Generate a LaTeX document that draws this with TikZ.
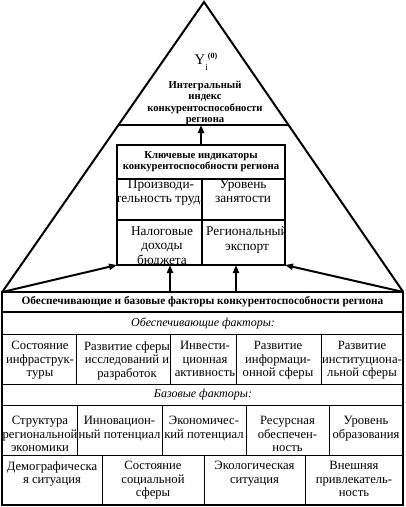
\documentclass[tikz,border=0pt]{standalone}
\usepackage{fontspec}
\setmainfont{Liberation Serif}
\usetikzlibrary{arrows.meta}
\begin{document}
\begin{tikzpicture}[x=0.75pt,y=-0.75pt,
  tri/.style={line width=1.5pt},
  arr/.style={-{Triangle[length=6pt,width=4.5pt]},line width=1.5pt},
  frame/.style={draw,inner sep=0pt,outer sep=0pt},
  grid/.style={line width=0.7pt},
  txt/.style={inner sep=0pt,align=center,font=\fontsize{9.5}{10.2}\selectfont},
  ktxt/.style={inner sep=0pt,align=center,font=\fontsize{10}{11.2}\selectfont},
  btxt/.style={inner sep=0pt,align=center,font=\bfseries\fontsize{8}{8.2}\selectfont},
  itxt/.style={inner sep=0pt,align=center,font=\itshape\fontsize{9}{10}\selectfont}]
\useasboundingbox (0,0) rectangle (406,507);
% frames
\node[frame,line width=2pt,minimum width=126pt,minimum height=90pt] (key) at (201,205) {};
\node[frame,line width=1.2pt,minimum width=300.75pt,minimum height=159.75pt] (base) at (202.75,398.5) {};
% triangle
\coordinate (apex) at (204,2);
\coordinate (tl) at (118.3,125);
\coordinate (tr) at (288.4,125);
\draw[tri] (base.north west) -- (apex) -- (base.north east);
\draw[tri] (tl) -- (tr);
\node[inner sep=0pt,font=\fontsize{11}{12}\selectfont] (y) at (206,62) {Y\raisebox{-4.5pt}{\fontsize{7}{7}\selectfont i}\raisebox{4.5pt}{\bfseries\fontsize{6}{6}\selectfont (0)}};
\node[btxt,font=\bfseries\fontsize{8}{8.4}\selectfont] (integ) at (205,103) {Интегральный\\индекс\\конкурентоспособности\\региона};
% key box inside
\draw[line width=1.5pt] (117,179) -- (285,179);
\draw[line width=1.5pt] (117,220) -- (285,220);
\draw[line width=1.5pt] (202,179) -- (202,265);
\node[btxt] (khead) at (201,162) {Ключевые индикаторы\\конкурентоспособности региона};
\begin{scope}
\clip (117,179) rectangle (202,265);
\node[ktxt,anchor=north] (k1) at (161,179) {Производи-\\тельность труда};
\node[ktxt,anchor=north] (k3) at (162,226) {Налоговые\\доходы\\бюджета};
\end{scope}
\begin{scope}
\clip (202,179) rectangle (285,265);
\node[ktxt,anchor=north] (k2) at (243,179) {Уровень\\занятости};
\node[ktxt,anchor=north] (k4) at (247,226) {Региональный\\экспорт};
\end{scope}
% arrows
\draw[arr] (key.north) -- (key.north |- tl);
\coordinate (b1) at (170,292);
\coordinate (b2) at (236,292);
\draw[arr] (b1) -- (b1 |- key.south);
\draw[arr] (b2) -- (b2 |- key.south);
\draw[arr] (base.north west) -- (key.south west);
\draw[arr] (base.north east) -- (key.south east);
% bottom table
\draw[line width=1.2pt] (2,312) -- (403,312);
\draw[grid] (2,334) -- (403,334);
\draw[grid] (2,384) -- (403,384);
\draw[grid] (2,405) -- (403,405);
\draw[grid] (2,455) -- (403,455);
\foreach \x in {76,170,236,321} \draw[grid] (\x,334) -- (\x,384);
\foreach \x in {77,162,246,329} \draw[grid] (\x,405) -- (\x,455);
\foreach \x in {102,204,305} \draw[grid] (\x,455) -- (\x,505);
\node[btxt,font=\bfseries\fontsize{8.5}{9}\selectfont] (bhead) at (202.5,302) {Обеспечивающие и базовые факторы конкурентоспособности региона};
\node[itxt] (ihead1) at (203,323) {Обеспечивающие факторы:};
\node[itxt] (ihead2) at (203,395) {Базовые факторы:};
% row 1
\node[txt,anchor=north] (r11) at (40,341) {Состояние\\инфраструк-\\туры};
\node[txt,anchor=north] (r12) at (127,341) {Развитие сферы\\исследований и\\разработок};
\node[txt,anchor=north] (r13) at (205,341) {Инвести-\\ционная\\активность};
\node[txt,anchor=north] (r14) at (278,341) {Развитие\\информаци-\\онной сферы};
\node[txt,anchor=north] (r15) at (362,341) {Развитие\\институциона-\\льной сферы};
% row 2
\node[txt,anchor=north] (r21) at (40,416) {Структура\\региональной\\экономики};
\node[txt,anchor=north] (r22) at (119.5,416) {Инновацион-\\ный потенциал};
\node[txt,anchor=north] (r23) at (204,416) {Экономичес-\\кий потенциал};
\node[txt,anchor=north] (r24) at (287.5,416) {Ресурсная\\обеспечен-\\ность};
\node[txt,anchor=north] (r25) at (366,416) {Уровень\\образования};
% row 3
\node[txt,anchor=north] (r31) at (52,461) {Демографическа\\я ситуация};
\node[txt,anchor=north] (r32) at (153,461) {Состояние\\социальной\\сферы};
\node[txt,anchor=north] (r33) at (254.5,461) {Экологическая\\ситуация};
\node[txt,anchor=north] (r34) at (354,461) {Внешняя\\привлекатель-\\ность};
\end{tikzpicture}
\end{document}
